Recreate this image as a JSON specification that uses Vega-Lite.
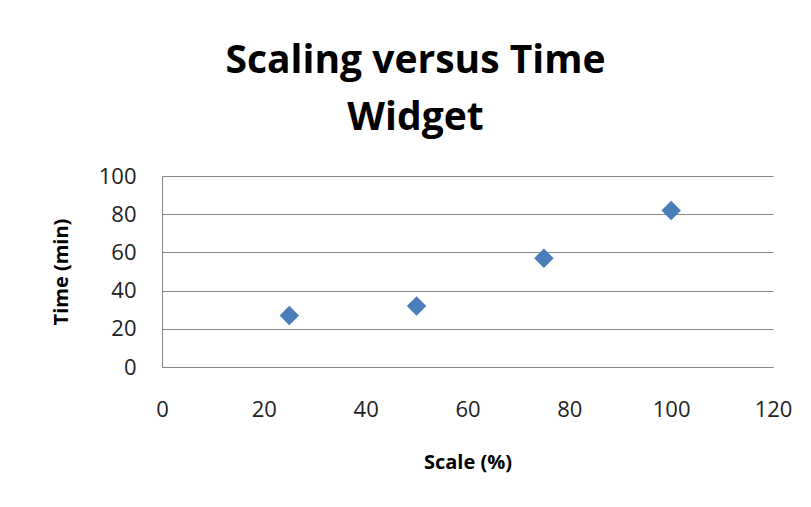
{
  "$schema": "https://vega.github.io/schema/vega-lite/v6.json",
  "width": 611,
  "height": 191,
  "autosize": {"type": "none"},
  "padding": {"left": 162, "top": 176, "right": 38, "bottom": 140},
  "background": "white",
  "title": {
    "text": ["Scaling versus Time", "Widget"],
    "anchor": "middle",
    "frame": "group",
    "dx": -52,
    "offset": 27,
    "fontSize": 39,
    "lineHeight": 57,
    "font": "Open Sans",
    "fontWeight": "bold",
    "color": "black"
  },
  "data": {
    "values": [
      {"scale": 25, "time": 27},
      {"scale": 50, "time": 32},
      {"scale": 75, "time": 57},
      {"scale": 100, "time": 82}
    ]
  },
  "mark": {"type": "point", "shape": "diamond", "filled": true, "size": 380, "color": "#4A7EBB", "opacity": 1},
  "encoding": {
    "x": {
      "field": "scale",
      "type": "quantitative",
      "title": "Scale (%)",
      "scale": {"domain": [0, 120], "nice": false, "zero": true},
      "axis": {"values": [0, 20, 40, 60, 80, 100, 120], "grid": false, "ticks": false, "domain": true, "domainColor": "#868686", "labelPadding": 32, "labelFlush": false, "titlePadding": 32}
    },
    "y": {
      "field": "time",
      "type": "quantitative",
      "title": "Time (min)",
      "scale": {"domain": [0, 100], "nice": false},
      "axis": {"values": [0, 20, 40, 60, 80, 100], "grid": true, "ticks": false, "domain": true, "domainColor": "#868686", "labelPadding": 26, "labelFlush": false, "titlePadding": 27}
    }
  },
  "config": {
    "view": {"stroke": null},
    "axis": {
      "labelFont": "Open Sans",
      "labelFontSize": 22,
      "labelColor": "#222",
      "titleFont": "Open Sans",
      "titleFontSize": 20,
      "titleFontWeight": "bold",
      "titleColor": "black",
      "gridColor": "#868686",
      "gridOpacity": 1,
      "domainWidth": 1,
      "gridWidth": 1
    }
  }
}
